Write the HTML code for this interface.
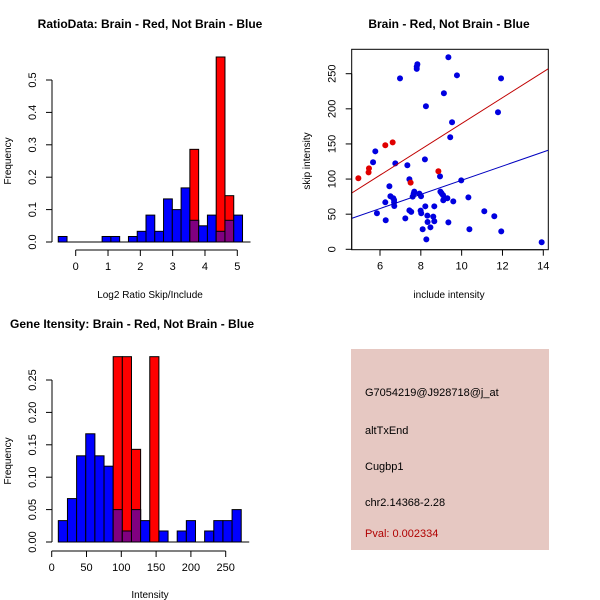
<!DOCTYPE html>
<html><head><meta charset="utf-8"><style>
body{margin:0;background:#fff;}
svg{display:block;font-family:"Liberation Sans",sans-serif;}
text{fill:#000;}
</style></head><body>
<svg id="s" width="600" height="600" xmlns="http://www.w3.org/2000/svg">
<rect width="600" height="600" fill="#fff"/>
<g>
<rect x="351" y="349" width="198" height="201" fill="#e6c8c2"/>
<text x="365" y="396" font-size="11">G7054219@J928718@j_at</text>
<text x="365" y="434" font-size="11">altTxEnd</text>
<text x="365" y="470" font-size="11">Cugbp1</text>
<text x="365" y="506" font-size="11">chr2.14368-2.28</text>
<text x="365" y="537" font-size="11" style="fill:#b00000">Pval: 0.002334</text>
</g>
</svg>
<script>
// Histogram 1: ratio data
const h1Start = -0.54, h1Width = 0.2715;
const h1Blue = [0.017,0,0,0,0,0.017,0.017,0,0.017,0.033,0.083,0.033,0.133,0.1,0.167,0.067,0.05,0.083,0.033,0.067,0.083];
const h1Red  = [0,0,0,0,0,0,0,0,0,0,0,0,0,0,0,0.286,0,0,0.571,0.143,0];
const h1XTicks = [0,1,2,3,4,5];
const h1YTicks = [0.0,0.1,0.2,0.3,0.4,0.5];
// Histogram 2: gene intensity
const h2Start = 9.5, h2Width = 13.14;
const h2Blue = [0.033,0.067,0.133,0.167,0.133,0.117,0.05,0.017,0.05,0.033,0,0.017,0,0.017,0.033,0,0.017,0.033,0.033,0.05];
const h2Red  = [0,0,0,0,0,0,0.286,0.286,0.143,0,0.286,0,0,0,0,0,0,0,0,0];
const h2XTicks = [0,50,100,150,200,250];
const h2YTicks = [0.00,0.05,0.10,0.15,0.20,0.25];
// Scatter
const blueX = [9.35,7.83,7.80,7.80,9.77,6.98,11.93,9.13,8.25,11.78,9.53,9.44,5.77,5.66,6.75,8.20,7.34,7.44,8.94,9.98,6.46,6.51,6.65,6.69,6.69,6.70,7.68,7.65,7.60,7.93,8.01,8.96,9.02,9.09,9.30,9.10,9.59,10.33,8.22,8.66,7.44,7.53,7.99,8.02,8.32,8.61,5.85,6.26,7.24,6.28,8.33,8.47,8.66,9.35,8.09,8.27,10.38,11.11,11.60,11.94,13.92];
const blueY = [273.4,263.4,260.1,256.8,247.7,243.4,243.4,222.1,203.6,195.1,180.8,159.5,139.5,123.9,122.4,128.1,119.6,99.7,103.9,98.2,89.7,75.5,72.6,70.2,66.9,61.7,82.1,79.3,75.0,79.3,75.5,82.1,79.7,76.9,72.6,69.8,68.3,74.0,61.2,61.2,55.5,53.2,55.1,51.3,47.9,46.5,51.3,66.9,44.1,41.3,38.9,31.3,39.9,38.4,28.5,14.2,28.5,54.1,47.0,25.6,10.0];
const redX = [4.94,5.46,5.44,6.26,6.62,8.86,7.50];
const redY = [101.1,115.3,109.6,148.1,152.3,111.1,94.9];
const redFit = [[4.61,80],[14.24,257]];
const blueFit = [[4.61,44],[14.24,141]];
const scXTicks = [6,8,10,12,14];
const scYTicks = [0,50,100,150,200,250];

const NS='http://www.w3.org/2000/svg';
const svg=document.getElementById('s');
function mk(tag,attrs,parent){const e=document.createElementNS(NS,tag);for(const k in attrs)e.setAttribute(k,attrs[k]);(parent||svg).appendChild(e);return e;}
function lin(d0,d1,p0,p1){return v=>p0+(v-d0)*(p1-p0)/(d1-d0);}

function title(x,y,t,anchor,name){
  const e=mk('text',{x:x,y:y,'font-size':12,'font-weight':'bold','text-anchor':anchor});
  e.textContent=t;
  
  
}
function yAxis(g,x,ticks,sy,fmt,name){
  const a=mk('g',{},g);
  
  
  mk('line',{x1:x,x2:x,y1:sy(ticks[0]),y2:sy(ticks[ticks.length-1]),stroke:'#000'},a);
  ticks.forEach(t=>{
    mk('line',{x1:x-6,x2:x,y1:sy(t),y2:sy(t),stroke:'#000'},a);
    const tx=mk('text',{x:0,y:0,'font-size':11,'text-anchor':'middle',transform:`translate(${x-16},${sy(t)}) rotate(-90)`},a);
    tx.textContent=fmt(t);
    
    
  });
}
function xAxis(g,y,ticks,sx,name){
  const a=mk('g',{},g);
  
  
  mk('line',{x1:sx(ticks[0]),x2:sx(ticks[ticks.length-1]),y1:y,y2:y,stroke:'#000'},a);
  ticks.forEach(t=>{
    mk('line',{x1:sx(t),x2:sx(t),y1:y,y2:y+6,stroke:'#000'},a);
    const tx=mk('text',{x:sx(t),y:y+20,'font-size':11,'text-anchor':'middle'},a);
    tx.textContent=t;
    
    
  });
}
function label(x,y,t,rot,name){
  const e=mk('text',{x:0,y:0,'font-size':10,'text-anchor':'middle',transform:`translate(${x},${y})`+(rot?' rotate(-90)':'')});
  e.textContent=t;
  
  
}
function hist(g,start,w,blue,red,sx,sy){
  blue.forEach((v,i)=>{
    const x0=sx(start+i*w),x1=sx(start+(i+1)*w);
    const r=red[i];
    if(v>0){
      const b=mk('rect',{x:x0,y:sy(v),width:x1-x0,height:sy(0)-sy(v),fill:'#0000ff',stroke:'#000','stroke-width':1},g);
      
      
    }
    if(r>0){
      const rb=mk('rect',{x:x0,y:sy(r),width:x1-x0,height:sy(0)-sy(r),fill:'#ff0000',stroke:'#000','stroke-width':1},g);
      
      
      const m=Math.min(v,r);
      if(m>0){
        const pb=mk('rect',{x:x0,y:sy(m),width:x1-x0,height:sy(0)-sy(m),fill:'#800080',stroke:'#000','stroke-width':1},g);
        
        
      }
    }
  });
  mk('line',{x1:sx(start),x2:sx(start+blue.length*w)+8,y1:sy(0),y2:sy(0),stroke:'#000'},g);
}

// Panel 1
(function(){
  const g=mk('g',{});
  
  
  const sx=lin(0,5,75.7,237.3), sy=lin(0,0.5,242,80);
  hist(g,h1Start,h1Width,h1Blue,h1Red,sx,sy);
  yAxis(g,52,h1YTicks,sy,t=>t.toFixed(1),'y-axis');
  xAxis(g,250,h1XTicks,sx,'x-axis');
  label(150,298,'Log2 Ratio Skip/Include',false,'x-axis-title');
  label(11,161,'Frequency',true,'y-axis-title');
  title(150,28,'RatioData: Brain - Red, Not Brain - Blue','middle','ratio-title');
})();
// Panel 2
(function(){
  const g=mk('g',{});
  
  
  const sx=lin(0,250,51.7,225.7), sy=lin(0,0.25,542,380);
  hist(g,h2Start,h2Width,h2Blue,h2Red,sx,sy);
  yAxis(g,52,h2YTicks,sy,t=>t.toFixed(2),'y-axis');
  xAxis(g,551,h2XTicks,sx,'x-axis');
  label(150,598,'Intensity',false,'x-axis-title');
  label(11,461,'Frequency',true,'y-axis-title');
  title(10,328,'Gene Itensity: Brain - Red, Not Brain - Blue','start','intensity-title');
})();
// Panel 3 scatter
(function(){
  const g=mk('g',{});
  
  
  const sx=lin(6,14,380,543.3), sy=lin(0,250,249.3,73.7);
  const bx=mk('rect',{x:351.7,y:49.3,width:196.6,height:200.4,fill:'none',stroke:'#000'},g);
  
  
  const cp=mk('clipPath',{id:'cp'},g);
  mk('rect',{x:351.7,y:49.3,width:196.6,height:200.4},cp);
  const pg=mk('g',{'clip-path':'url(#cp)'},g);
  blueX.forEach((x,i)=>{
    const c=mk('circle',{cx:sx(x),cy:sy(blueY[i]),r:3,fill:'#0000e0'},pg);
    
    
  });
  redX.forEach((x,i)=>{
    const c=mk('circle',{cx:sx(x),cy:sy(redY[i]),r:3,fill:'#e00000'},pg);
    
    
  });
  const rl=mk('line',{x1:sx(redFit[0][0]),y1:sy(redFit[0][1]),x2:sx(redFit[1][0]),y2:sy(redFit[1][1]),stroke:'#c00000'},pg);
  
  
  const bl=mk('line',{x1:sx(blueFit[0][0]),y1:sy(blueFit[0][1]),x2:sx(blueFit[1][0]),y2:sy(blueFit[1][1]),stroke:'#0000c0'},pg);
  
  
  yAxis(g,351.7,scYTicks,sy,t=>t,'y-axis');
  xAxis(g,249.7,scXTicks,sx,'x-axis');
  label(449,298,'include intensity',false,'x-axis-title');
  label(310,161,'skip intensity',true,'y-axis-title');
  title(449,28,'Brain - Red, Not Brain - Blue','middle','scatter-title');
})();
</script>
</body></html>
